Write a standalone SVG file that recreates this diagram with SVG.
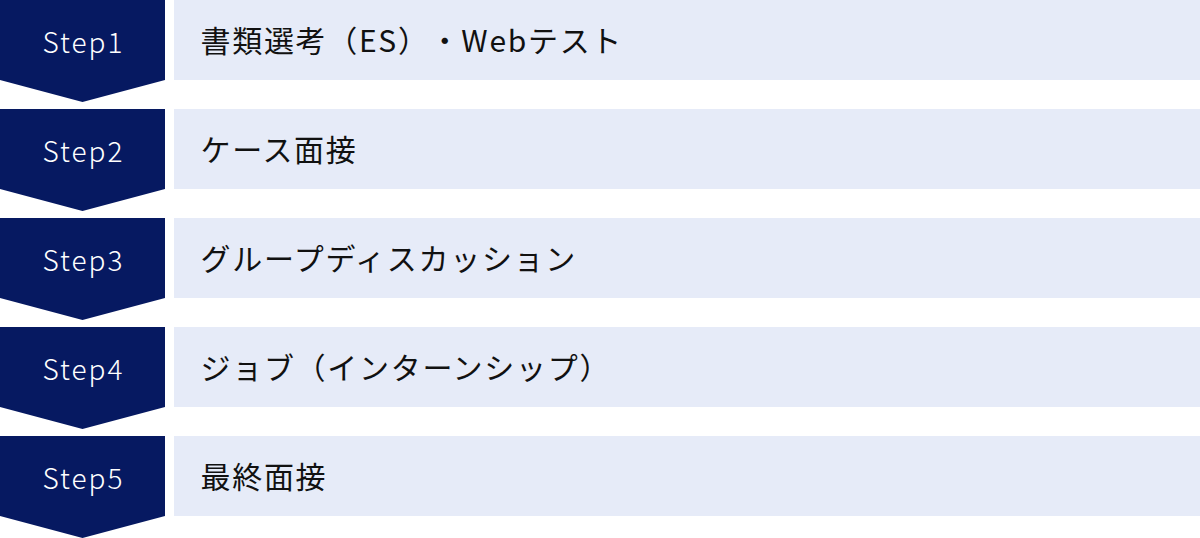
<svg xmlns="http://www.w3.org/2000/svg" width="1200" height="538" viewBox="0 0 1200 538">
<style>
.step{fill:#061961;}
.bar{fill:#E6EBF8;}
.st{font-family:"Noto Sans CJK JP","Noto Sans",sans-serif;font-size:28px;font-weight:300;fill:#FFFFFF;letter-spacing:2px;text-anchor:middle;}
.lb{font-family:"Noto Sans CJK JP","Noto Sans",sans-serif;font-size:30px;fill:#111111;letter-spacing:1.7px;text-spacing-trim:space-all;}
</style>
<defs>
<polygon id="chev" points="0,0 165,0 165,80 82.5,102 0,80"/>
</defs>
<rect width="1200" height="538" fill="#FFFFFF"/>
<g id="step1" transform="translate(0,0)">
<use href="#chev" class="step"/>
<rect class="bar" x="174" y="0" width="1026" height="80"/>
<text class="st" x="83.5" y="53">Step1</text>
<text class="lb" x="200.5" y="51.5">書類選考（ES）・Webテスト</text>
</g>
<g id="step2" transform="translate(0,109)">
<use href="#chev" class="step"/>
<rect class="bar" x="174" y="0" width="1026" height="80"/>
<text class="st" x="83.5" y="53">Step2</text>
<text class="lb" x="200.5" y="51.5">ケース面接</text>
</g>
<g id="step3" transform="translate(0,218)">
<use href="#chev" class="step"/>
<rect class="bar" x="174" y="0" width="1026" height="80"/>
<text class="st" x="83.5" y="53">Step3</text>
<text class="lb" x="200.5" y="51.5">グループディスカッション</text>
</g>
<g id="step4" transform="translate(0,327)">
<use href="#chev" class="step"/>
<rect class="bar" x="174" y="0" width="1026" height="80"/>
<text class="st" x="83.5" y="53">Step4</text>
<text class="lb" x="200.5" y="51.5">ジョブ（インターンシップ）</text>
</g>
<g id="step5" transform="translate(0,436)">
<use href="#chev" class="step"/>
<rect class="bar" x="174" y="0" width="1026" height="80"/>
<text class="st" x="83.5" y="53">Step5</text>
<text class="lb" x="200.5" y="51.5">最終面接</text>
</g>
<g id="connectors"></g>
</svg>
